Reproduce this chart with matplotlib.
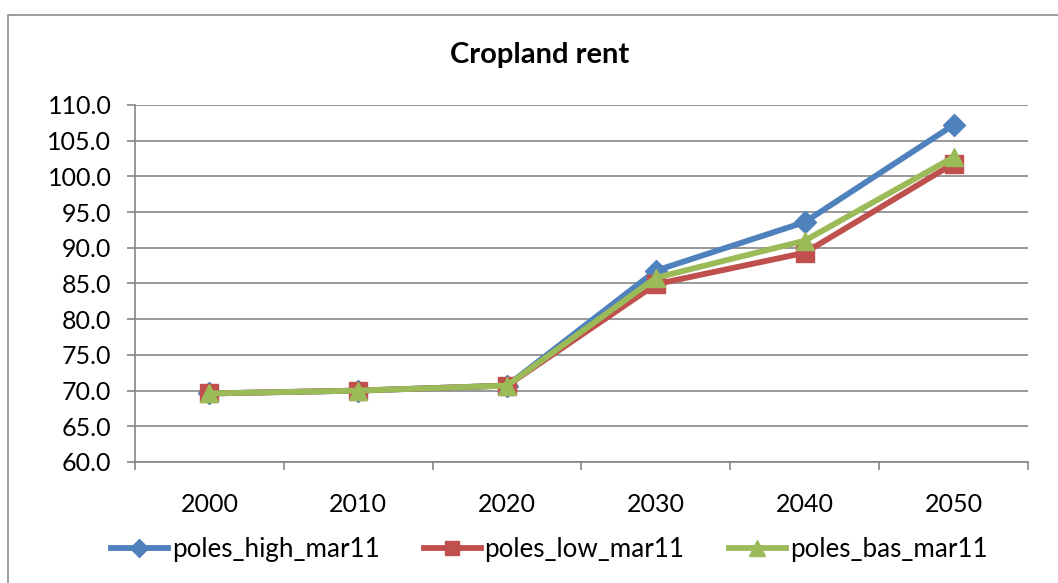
import matplotlib
matplotlib.use('Agg')
import matplotlib.pyplot as plt
from matplotlib.patches import Rectangle

# Data
years = ['2000', '2010', '2020', '2030', '2040', '2050']
poles_high = [69.6, 70.0, 70.7, 86.8, 93.6, 107.2]
poles_low = [69.6, 70.0, 70.7, 84.9, 89.3, 101.8]
poles_bas = [69.6, 70.0, 70.7, 85.8, 91.0, 102.7]

plt.rcParams['font.family'] = ['Lato', 'DejaVu Sans']

fig = plt.figure(figsize=(10.58, 5.83), dpi=100)
ax = fig.add_axes([135 / 1058, 1 - 462 / 583, (1028 - 135) / 1058, (462 - 105) / 583])

# outer chart border
fig.patches.append(Rectangle((8 / 1058, -0.05), 1.1, 1.05 - 15 / 583,
                             transform=fig.transFigure, fill=False,
                             edgecolor='#8c8c8c', linewidth=1.2))

x = range(len(years))
ax.plot(x, poles_high, color='#4F81BD', lw=4.2, marker='D', ms=11,
        label='poles_high_mar11')
ax.plot(x, poles_low, color='#C0504D', lw=4.2, marker='s', ms=12.5,
        label='poles_low_mar11')
ax.plot(x, poles_bas, color='#9BBB59', lw=4.2, marker='^', ms=13,
        label='poles_bas_mar11')

ax.set_xlim(-0.5, len(years) - 0.5)
ax.set_ylim(60, 110)
ax.set_yticks([60 + 5 * i for i in range(11)])
ax.set_yticklabels([f'{60 + 5 * i:.1f}' for i in range(11)])
ax.set_xticks(list(x))
ax.set_xticklabels(years)
ax.set_xticks([i - 0.5 for i in range(len(years) + 1)], minor=True)
ax.tick_params(axis='x', which='major', length=0, pad=22, labelsize=18)
ax.tick_params(axis='x', which='minor', length=6, color='#868686', width=1.2)
ax.tick_params(axis='y', length=6, color='#868686', width=1.2, labelsize=18, pad=11)

ax.grid(axis='y', color='#868686', lw=1.2)
ax.set_axisbelow(True)
for s in ['top', 'right']:
    ax.spines[s].set_visible(False)
for s in ['left', 'bottom']:
    ax.spines[s].set_color('#868686')
    ax.spines[s].set_linewidth(1.2)

fig.text(540 / 1058, 1 - 55 / 583, 'Cropland rent', ha='center', va='center',
         fontsize=21, fontweight='bold')

fig.legend(loc='center', bbox_to_anchor=(549 / 1058, 1 - 550 / 583), ncol=3,
           frameon=False, fontsize=18.7, handlelength=2.2, handletextpad=0.15,
           columnspacing=1.7, markerscale=0.85)

fig.savefig('out.png', dpi=100)
